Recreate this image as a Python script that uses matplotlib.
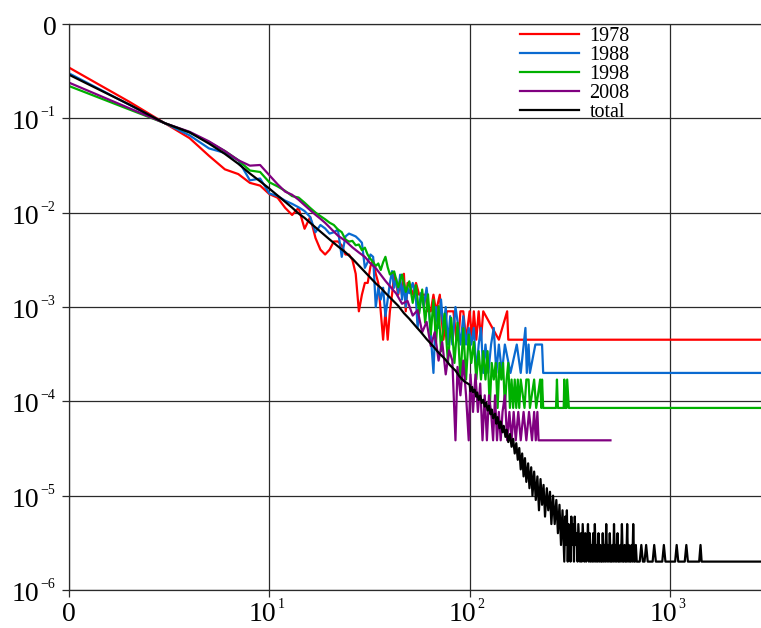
import numpy as np
import matplotlib.pyplot as plt
from matplotlib.ticker import NullLocator

plt.rcParams['font.family'] = ['Liberation Serif', 'DejaVu Serif']

# counts per value k for each year (zero counts left out), and the number of events
k_1978 = [1, 2, 3, 4, 5, 6, 7, 8, 9, 10, 11, 12, 13, 14, 15, 16, 17, 18, 19, 20,
          21, 22, 23, 24, 25, 26, 27, 28, 29, 30, 31, 32, 33, 34, 35, 36, 37, 38, 39, 40,
          41, 42, 43, 44, 45, 46, 47, 48, 49, 50, 52, 54, 56, 58, 60, 62, 64, 66, 68,
          71, 74, 77, 80, 83, 86, 88, 90, 93, 96, 100, 103, 105, 108, 111, 114, 117,
          140, 154, 156, 3000]
n_1978 = [767, 333, 198, 137, 89, 64, 57, 46, 43, 35, 32, 25, 21, 25, 15, 20, 12, 9, 8, 9,
          11, 11, 10, 8, 8, 7, 5, 2, 3, 4, 4, 6, 7, 5, 4, 2, 1, 2, 1, 2,
          3, 5, 4, 3, 4, 3, 5, 2, 4, 4, 3, 4, 3, 3, 3, 2, 2, 3, 2,
          3, 1, 2, 2, 2, 1, 1, 2, 2, 1, 2, 1, 2, 1, 2, 1, 2,
          1, 2, 1, 1]
total_1978 = 2222

k_1988 = [1, 2, 3, 4, 5, 6, 7, 8, 9, 10, 11, 12, 13, 14, 15, 16, 17, 18, 19, 20,
          21, 22, 23, 24, 25, 26, 27, 28, 29, 30, 31, 32, 33, 34, 35, 36, 37, 38, 39, 40,
          41, 42, 43, 44, 45, 46, 47, 48, 49, 50,
          52, 54, 55, 57, 59, 61, 63, 66, 68, 70, 72, 74, 76, 78, 80, 82, 85, 88, 90, 93,
          96, 99, 102, 105, 108, 111, 114, 117, 120, 124, 128, 132, 136, 140, 145, 150,
          160, 172, 180, 190, 193, 197, 200, 213, 230, 233, 3000]
n_1988 = [1500, 697, 445, 330, 240, 215, 180, 110, 115, 80, 75, 67, 62, 57, 52, 45, 31, 37, 34, 30,
          31, 33, 17, 28, 30, 29, 28, 26, 24, 13, 15, 18, 17, 5, 8, 6, 8, 4, 6, 9,
          12, 8, 10, 7, 11, 6, 9, 5, 8, 7,
          9, 6, 3, 7, 5, 8, 4, 1, 5, 3, 6, 3, 5, 2, 4, 2, 5, 3, 2, 4,
          2, 3, 2, 3, 1, 2, 3, 1, 2, 1, 2, 3, 1, 2, 1, 2,
          1, 2, 1, 3, 1, 2, 1, 2, 2, 1, 1]
total_1988 = 5000

k_1998 = [1, 2, 3, 4, 5, 6, 7, 8, 9, 10, 11, 12, 13, 14, 15, 16, 17, 18, 19, 20,
          21, 22, 23, 24, 25, 26, 27, 28, 29, 30, 31, 32, 33, 34, 35, 36, 37, 38, 39, 40,
          42, 44, 46, 48, 50, 52, 54, 56, 58, 60, 62, 64, 66, 68, 70,
          72, 75, 78, 81, 84, 87, 90, 93, 96, 99,
          102, 105, 108, 111, 114, 117, 120, 123, 126, 129, 132, 135, 138, 141, 144, 147,
          150, 153, 156, 159, 162, 165, 168, 171, 174, 177,
          180, 188, 192, 197, 200, 210, 215, 225, 228, 230, 233, 270, 273, 276, 295, 297,
          300, 305, 307, 313, 3000]
n_1998 = [2585, 1459, 1046, 834, 658, 529, 423, 329, 317, 247, 223, 200, 176, 170, 150, 132, 118, 108, 100, 92,
          87, 78, 73, 61, 58, 59, 53, 54, 47, 50, 42, 38, 35, 32, 34, 29, 35, 40, 31, 26,
          28, 19, 26, 17, 22, 13, 20, 10, 18, 8, 16, 6, 14, 5, 12,
          4, 10, 3, 9, 3, 8, 2, 7, 2, 6,
          3, 5, 2, 4, 2, 4, 2, 4, 1, 3, 2, 3, 1, 3, 2, 3,
          1, 2, 3, 1, 2, 1, 2, 1, 2, 1,
          2, 1, 2, 2, 1, 2, 1, 2, 1, 2, 1, 1, 2, 1, 1, 2,
          1, 1, 2, 1, 1]
total_1998 = 11750

k_2008 = [1, 2, 3, 4, 5, 6, 7, 8, 9, 10, 11, 12, 13, 14, 15, 16, 17, 18, 19, 20,
          22, 24, 26, 28, 30, 32, 34, 36, 38, 40,
          43, 46, 49, 52, 55, 58, 61, 64, 67, 70,
          73, 76, 79, 82, 85, 87, 90, 93, 96, 99, 101, 104, 107, 110, 113, 116, 119, 122, 125, 128,
          131, 134, 137, 140, 143, 146, 150, 154, 158, 162, 166, 170, 175, 180, 186, 192, 198, 205,
          210, 214, 218, 221, 505]
n_2008 = [6190, 3315, 2305, 1865, 1476, 1166, 932, 816, 829, 647, 518, 433, 401, 355, 311, 275, 246, 223, 202, 181,
          148, 130, 111, 98, 88, 75, 67, 57, 49, 43,
          36, 28, 30, 21, 24, 14, 18, 10, 14, 7,
          11, 5, 9, 7, 1, 6, 3, 7, 3, 1, 5, 2, 5, 2, 4, 1, 3, 1, 3, 2,
          1, 3, 1, 2, 1, 2, 3, 1, 2, 1, 2, 1, 2, 1, 2, 1, 2, 1,
          2, 1, 2, 1, 1]
total_2008 = 25900

k_all = [1, 2, 3, 4, 5, 6, 7, 8, 9, 10, 11, 12, 13, 14, 15, 16, 17, 18, 19, 20,
         22, 24, 26, 28, 30, 32, 34, 36, 38,
         41, 44, 47, 50, 54, 57, 61, 65, 70, 75, 80, 85, 89, 94,
         100, 101, 103, 104, 106, 108, 109, 111, 113, 115,
         117, 119, 121, 123, 125, 127, 129, 131, 134, 136,
         138, 141, 143, 146, 148, 151, 153, 156, 159, 162,
         165, 168, 171, 174, 177, 180, 183, 186, 189, 192,
         196, 199, 203, 206, 210, 214, 218, 222, 226, 230,
         234, 238, 243, 247, 252, 256, 261, 266, 271, 276,
         281, 286, 291,
         297, 300, 303, 306, 309, 312, 316, 319, 322, 325,
         329, 332, 335, 339, 342, 346, 349, 353, 356, 360,
         363, 367, 371, 374, 378, 382, 386, 390, 394, 398,
         402, 406, 410, 414, 418, 422, 427, 431, 435, 440,
         444, 449, 453, 458, 462, 467, 472, 476, 481, 486,
         491, 496, 501, 506, 511, 516, 521, 526, 532, 537,
         542, 548, 553, 559, 565, 570, 576, 582, 588, 594,
         600, 606, 612, 618, 624, 630, 637, 643, 650, 656,
         663, 669, 676, 683, 690, 697,
         707, 720, 733, 747, 761, 775, 790, 805, 820, 835,
         851, 867, 883, 899, 916, 933, 950, 968, 986, 1004,
         1023, 1042, 1062, 1081, 1101, 1122, 1143, 1164, 1186, 1208,
         1230, 1253, 1277, 1300, 1325, 1349, 1374, 1400, 1422, 1440,
         3000]
n_all = [290000, 140000, 89000, 71000, 54000, 42000, 33000, 26000, 21500, 18000,
         15200, 13000, 11300, 9800, 8800, 7800, 7000, 6300, 5700, 5200,
         4400, 3800, 3250, 2750, 2360, 2040, 1780, 1600, 1410,
         1200, 1030, 860, 750, 620, 545, 457, 395, 328, 284, 240, 212, 184, 163,
         150, 128, 142, 125, 133, 112, 124, 103, 115, 96,
         104, 88, 97, 80, 90, 73, 82, 66, 74, 58,
         68, 52, 61, 47, 55, 42, 50, 37, 45, 33,
         40, 28, 36, 24, 32, 19, 28, 16, 25, 14,
         22, 12, 20, 10, 18, 9, 16, 7, 15, 8,
         13, 6, 12, 7, 11, 5, 10, 5, 9, 4,
         8, 3, 7,
         2, 6, 3, 7, 2, 5, 4, 2, 6, 3,
         5, 2, 6, 3, 4, 2, 5, 3, 2, 4,
         2, 5, 3, 2, 4, 2, 3, 5, 2, 4,
         2, 3, 2, 4, 2, 5, 2, 3, 2, 4,
         2, 3, 2, 2, 4, 2, 3, 2, 5, 2,
         3, 2, 4, 2, 2, 3, 2, 5, 2, 3,
         2, 4, 2, 2, 3, 2, 5, 2, 2, 3,
         2, 2, 5, 2, 3, 2, 2, 3, 2, 5,
         2, 2, 3, 2, 2, 2,
         2, 3, 2, 2, 3, 2, 2, 2, 2, 3,
         2, 2, 2, 2, 2, 3, 2, 2, 2, 2,
         2, 2, 2, 3, 2, 2, 2, 2, 2, 3,
         2, 2, 2, 2, 2, 2, 2, 2, 3, 2,
         2]
total_all = 1000000

series = [
    ('1978', k_1978, n_1978, total_1978, '#ff0000'),
    ('1988', k_1988, n_1988, total_1988, '#0a6ad0'),
    ('1998', k_1998, n_1998, total_1998, '#00b000'),
    ('2008', k_2008, n_2008, total_2008, '#800080'),
    ('total', k_all, n_all, total_all, '#000000'),
]

# tick labels: base text and small raised exponent ('' = plain label)
xtick_vals = [1, 10, 100, 1000]
xtick_base = ['0', '10', '10', '10']
xtick_sup = ['', '1', '2', '3']
ytick_vals = [1e-6, 1e-5, 1e-4, 1e-3, 1e-2, 1e-1, 1]
ytick_base = ['10', '10', '10', '10', '10', '10', '0']
ytick_sup = ['\u22126', '\u22125', '\u22124', '\u22123', '\u22122', '\u22121', '']

px = 0.72  # points per pixel at dpi 100

fig = plt.figure(figsize=(7.61, 6.28), dpi=100)
ax = fig.add_axes([69 / 761, 38 / 628, 692 / 761, 566 / 628])

for name, k, n, tot, col in series:
    ax.plot(k, np.array(n) / tot, color=col, lw=1.6, label=name)

ax.set_xscale('log')
ax.set_yscale('log')
ax.set_xlim(1, 2850)
ax.set_ylim(1e-6, 1)
ax.set_xticks(xtick_vals)
ax.set_yticks(ytick_vals)
ax.xaxis.set_minor_locator(NullLocator())
ax.yaxis.set_minor_locator(NullLocator())

ax.set_axisbelow(True)
ax.grid(True, color='#2a2a2a', lw=0.9)
ax.tick_params(direction='out', length=5, width=0.9, color='#2a2a2a',
               labelleft=False, labelbottom=False)
ax.spines['right'].set_visible(False)
for s in ['left', 'bottom', 'top']:
    ax.spines[s].set_color('#2a2a2a')
    ax.spines[s].set_linewidth(0.9)

# y labels
for v, base, sup in zip(ytick_vals, ytick_base, ytick_sup):
    if sup:
        ax.annotate(base, xy=(0, v), xycoords=('axes fraction', 'data'),
                    xytext=(-30 * px, -11 * px), textcoords='offset points',
                    ha='right', va='baseline', fontsize=20)
        ax.annotate(sup, xy=(0, v), xycoords=('axes fraction', 'data'),
                    xytext=(-29 * px, 2 * px), textcoords='offset points',
                    ha='left', va='baseline', fontsize=10)
    else:
        ax.annotate(base, xy=(0, v), xycoords=('axes fraction', 'data'),
                    xytext=(-12 * px, -11 * px), textcoords='offset points',
                    ha='right', va='baseline', fontsize=20)

# x labels
for v, base, sup in zip(xtick_vals, xtick_base, xtick_sup):
    if sup:
        ax.annotate(base, xy=(v, 0), xycoords=('data', 'axes fraction'),
                    xytext=(7 * px, -31 * px), textcoords='offset points',
                    ha='right', va='baseline', fontsize=20)
        ax.annotate(sup, xy=(v, 0), xycoords=('data', 'axes fraction'),
                    xytext=(8 * px, -18 * px), textcoords='offset points',
                    ha='left', va='baseline', fontsize=10)
    else:
        ax.annotate(base, xy=(v, 0), xycoords=('data', 'axes fraction'),
                    xytext=(0, -31 * px), textcoords='offset points',
                    ha='center', va='baseline', fontsize=20)

ax.legend(loc='upper left', bbox_to_anchor=(520 / 761, 1 - 27 / 628),
          bbox_transform=fig.transFigure, frameon=False, fontsize=14.5,
          handlelength=2.95, handletextpad=0.5, labelspacing=0.0,
          borderpad=0, borderaxespad=0)

fig.savefig('out.png', dpi=100)
